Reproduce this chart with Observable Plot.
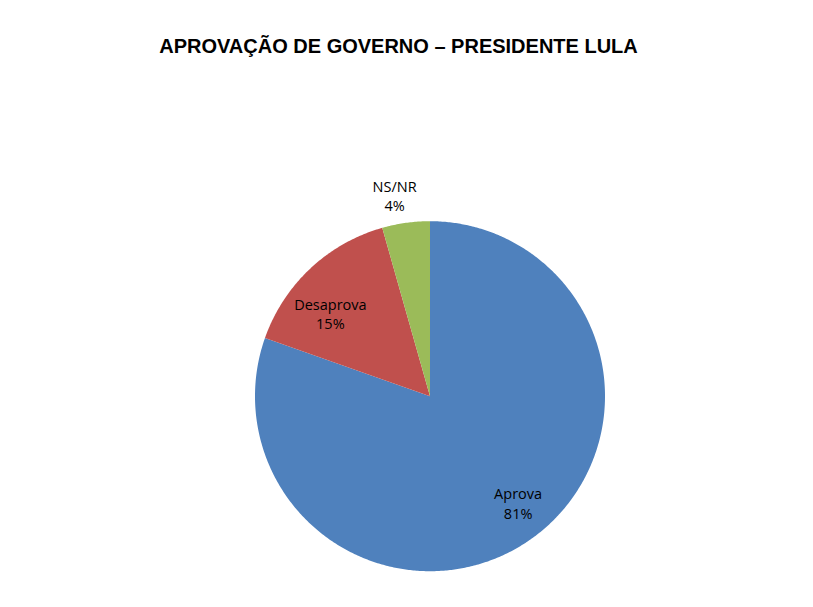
<!DOCTYPE html>
<html>
<head>
<meta charset="utf-8">
<script src="https://cdn.jsdelivr.net/npm/d3@7"></script>
<script src="https://cdn.jsdelivr.net/npm/@observablehq/plot@0.6"></script>
<style>
  html, body { margin: 0; padding: 0; background: #fff; }
  #wrap { position: relative; width: 813px; height: 607px; }
  #title { position: absolute; left: 0; top: 35px; width: 797px; text-align: center; line-height: 22px;
    font-family: "Liberation Sans", Arial, sans-serif; font-weight: bold; font-size: 20px; color: #000; }
  #chart { position: absolute; left: 0; top: 0; }
</style>
</head>
<body>
<div id="wrap">
  <div id="chart"></div>
  <div id="title">APROVAÇÃO DE GOVERNO – PRESIDENTE LULA</div>
</div>
<script>
const categories = ["Aprova", "Desaprova", "NS/NR"];
const values = [80.4, 15.2, 4.4];
const labels = ["81%", "15%", "4%"];
const colors = ["#4F81BD", "#C0504D", "#9BBB59"];

const data = categories.map((c, i) => ({category: c, value: values[i], label: labels[i]}));
const arcs = d3.pie().sort(null).value(d => d.value)(data);

// Polygon vertices of each slice (unit circle, angle 0 at top, clockwise)
const polys = [];
arcs.forEach(a => {
  const n = Math.max(2, Math.ceil((a.endAngle - a.startAngle) / (Math.PI / 360)));
  polys.push({category: a.data.category, x: 0, y: 0});
  for (let k = 0; k <= n; k++) {
    const t = a.startAngle + (a.endAngle - a.startAngle) * k / n;
    polys.push({category: a.data.category, x: Math.sin(t), y: Math.cos(t)});
  }
  polys.push({category: a.data.category, x: 0, y: 0});
});

// Label placement (radius fraction, angle in degrees clockwise from top)
const labelPlacement = {
  "Aprova": {r: 0.79, angle: 140.4},
  "Desaprova": {r: 0.74, angle: 309.7},
  "NS/NR": {r: 1.165, angle: 350}
};
const textData = arcs.map(a => {
  const p = labelPlacement[a.data.category];
  const t = p.angle * Math.PI / 180;
  return {category: a.data.category, text: a.data.category + "\n" + a.data.label,
    x: Math.sin(t) * p.r, y: Math.cos(t) * p.r};
});

const plot = Plot.plot({
  width: 813,
  height: 607,
  marginLeft: 254.5,
  marginRight: 208.5,
  marginTop: 220.7,
  marginBottom: 36.3,
  x: {domain: [-1, 1], axis: null},
  y: {domain: [-1, 1], axis: null},
  color: {domain: categories, range: colors},
  style: {background: "#fff"},
  marks: [
    Plot.line(polys, {x: "x", y: "y", z: "category", fill: "category", stroke: null, curve: "linear"}),
    Plot.text(textData, {x: "x", y: "y", text: "text", fontSize: 14.5, lineHeight: 1.33,
      fill: "#000", fontFamily: "'Open Sans', 'Noto Sans', sans-serif"})
  ]
});
document.getElementById("chart").appendChild(plot);
</script>
</body>
</html>
